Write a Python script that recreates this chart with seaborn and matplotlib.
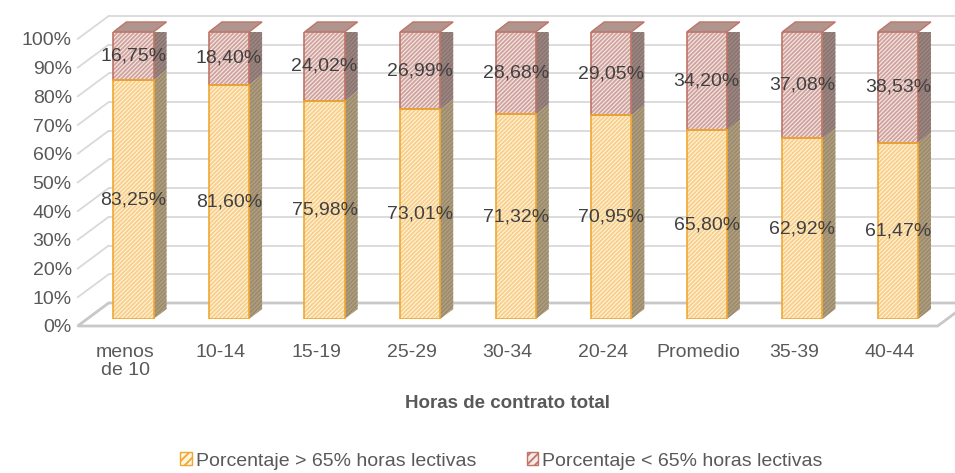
import matplotlib
matplotlib.use("Agg")
import matplotlib.pyplot as plt
import seaborn as sns
import pandas as pd
import numpy as np
from matplotlib.patches import Polygon, Rectangle, Patch
from matplotlib.transforms import ScaledTranslation

# data
categorias = ["menos\nde 10", "10-14", "15-19", "25-29", "30-34", "20-24", "Promedio", "35-39", "40-44"]
mayor_65 = [83.25, 81.60, 75.98, 73.01, 71.32, 70.95, 65.80, 62.92, 61.47]
menor_65 = [16.75, 18.40, 24.02, 26.99, 28.68, 29.05, 34.20, 37.08, 38.53]
yticks = list(range(0, 101, 10))
serie_labels = ["Porcentaje > 65% horas lectivas", "Porcentaje < 65% horas lectivas"]

df = pd.DataFrame({"cat": categorias, "low": mayor_65, "high": menor_65})
df["total"] = df["low"] + df["high"]

sns.set_theme(style="white")
plt.rcParams["font.family"] = ["Liberation Sans", "DejaVu Sans"]
plt.rcParams["hatch.linewidth"] = 1.3

TXT = "#595959"
FS = 14
HATCH = "////////"
# colours: face, hatch, edge, side face, side hatch
Y_FACE, Y_HATCH, Y_EDGE, Y_SIDE, Y_SIDE_H = "#fff3dc", "#f8cf8a", "#f0a830", "#b3a283", "#9c8b6c"
P_FACE, P_HATCH, P_EDGE, P_SIDE, P_SIDE_H = "#f6e8e6", "#cfa39d", "#bf7466", "#a08a85", "#8a7571"
TOP = "#b0958f"

fig = plt.figure(figsize=(9.55, 4.73), dpi=100)
ax = fig.add_axes([0.0897, 0.3256, 0.9005, 0.6068])
ax.set_xlim(-0.5, len(categorias) - 0.5)
ax.set_ylim(0, 100)

# pixel -> data conversion for the fake 3D depth
bb = ax.get_window_extent()
ppx = bb.width / (len(categorias))
ppy = bb.height / 100.0
def off(dx, dy):
    return dx / ppx, dy / ppy

fx, fy = off(-8, -7)     # front plane of the floor
bx, by = off(23, 16)     # back wall
dx, dy = off(13, 10)     # depth of the bars
x0, x1 = -0.5, len(categorias) - 0.5

# bars: full height (upper segment) then lower segment on top
n = len(categorias)
sns.barplot(data=df, x="cat", y="total", ax=ax, color=P_FACE, saturation=1, width=0.42,
            hatch=HATCH, edgecolor=P_HATCH, linewidth=0, zorder=2)
pink = list(ax.patches[:n])
sns.barplot(data=df, x="cat", y="low", ax=ax, color=Y_FACE, saturation=1, width=0.42,
            hatch=HATCH, edgecolor=Y_HATCH, linewidth=0, zorder=2)
yellow = list(ax.patches[n:2 * n])
ax.set_xlim(x0, x1)
ax.set_ylim(0, 100)

# floor
floor = Polygon([(x0 + fx, fy), (x1 + fx, fy), (x1 + bx, by), (x0 + bx, by)],
                closed=True, facecolor="white", edgecolor="#c8c8c8", lw=2, zorder=0.5, clip_on=False)
ax.add_patch(floor)
# back-wall gridlines and left wall diagonals
for v in yticks:
    if v > 0:
        ax.plot([x0 + bx, x1 + bx + 1], [v + by, v + by], color="#d9d9d9", lw=1.3, zorder=0.4, clip_on=False)
    ax.plot([x0 + fx, x0 + bx], [v + fy, v + by], color="#d9d9d9", lw=1.3, zorder=0.4, clip_on=False)

for p, q in zip(pink, yellow):
    xa = p.get_x()
    xb = xa + p.get_width()
    top = p.get_height()
    low = q.get_height()
    # side faces
    ax.add_patch(Polygon([(xb, low), (xb, top), (xb + dx, top + dy), (xb + dx, low + dy)],
                         facecolor=P_SIDE, edgecolor=P_SIDE_H, hatch=HATCH, lw=0, zorder=1.5))
    ax.add_patch(Polygon([(xb, 0), (xb, low), (xb + dx, low + dy), (xb + dx, dy)],
                         facecolor=Y_SIDE, edgecolor=Y_SIDE_H, hatch=HATCH, lw=0, zorder=1.6))
    # top cap
    ax.add_patch(Polygon([(xa, top), (xb, top), (xb + dx, top + dy), (xa + dx, top + dy)],
                         facecolor=TOP, edgecolor=P_EDGE, lw=1, zorder=1.7, clip_on=False))
    # outlines
    ax.add_patch(Rectangle((xa, low), p.get_width(), top - low, fill=False, edgecolor=P_EDGE, lw=1.2, zorder=3))
    ax.add_patch(Rectangle((xa, 0), q.get_width(), low, fill=False, edgecolor=Y_EDGE, lw=1.2, zorder=3))

# data labels
def fmt(v):
    return f"{v:.2f}".replace(".", ",") + "%"
for i, (lo, hi) in enumerate(zip(mayor_65, menor_65)):
    ax.text(i, lo / 2, fmt(lo), ha="center", va="center", fontsize=FS, color="#404040", zorder=5)
    ax.text(i, lo + hi / 2, fmt(hi), ha="center", va="center", fontsize=FS, color="#404040", zorder=5)

# axes cosmetics
for s in ax.spines.values():
    s.set_visible(False)
ax.set_yticks(yticks)
ax.set_yticklabels([f"{v}%" for v in yticks])
ax.tick_params(axis="y", length=0, pad=10, labelsize=FS, labelcolor=TXT)
ax.tick_params(axis="x", length=0, pad=18, labelsize=FS, labelcolor=TXT)
ax.set_xlabel("")
ax.set_ylabel("")
for lab in ax.get_yticklabels():
    lab.set_transform(lab.get_transform() + ScaledTranslation(0, -7 / 100, fig.dpi_scale_trans))
for lab in ax.get_xticklabels():
    lab.set_transform(lab.get_transform() + ScaledTranslation(-8 / 100, 0, fig.dpi_scale_trans))
    lab.set_linespacing(1.05)

fig.text(0.531, 1 - 403 / 473, "Horas de contrato total", ha="center", va="center",
         fontsize=13.5, fontweight="bold", color=TXT)

handles = [Patch(facecolor=Y_FACE, edgecolor=Y_EDGE, hatch="////"),
           Patch(facecolor=P_FACE, edgecolor=P_EDGE, hatch="////")]
fig.legend(handles, serie_labels, loc="center", bbox_to_anchor=(0.525, 1 - 461 / 473), ncol=2,
           frameon=False, fontsize=FS, labelcolor=TXT, handlelength=0.6, handleheight=0.6,
           handletextpad=0.2, columnspacing=2.6)

fig.savefig("out.png", dpi=100)
